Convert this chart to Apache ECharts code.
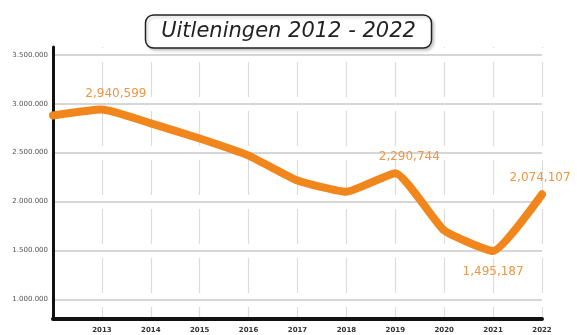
<!DOCTYPE html>
<html>
<head>
<meta charset="utf-8">
<script src="https://cdn.jsdelivr.net/npm/echarts@6/dist/echarts.min.js"></script>
<style>
  html, body { margin: 0; padding: 0; background: #fff; }
  #chart { width: 577px; height: 335px; }
</style>
</head>
<body>
<div id="chart"></div>
<script>
// Yearly loans (uitleningen), 2012 - 2022
const years = ['2012', '2013', '2014', '2015', '2016', '2017', '2018', '2019', '2020', '2021', '2022'];
const loans = [2880000, 2940599, 2800000, 2645000, 2470000, 2215000, 2100000, 2290744, 1705000, 1495187, 2074107];
const yTicks = [1000000, 1500000, 2000000, 2500000, 3000000, 3500000];
const labelledYears = ['2013', '2019', '2021', '2022'];

const orange = '#F0861C';
const fmtDots = v => String(v).replace(/\B(?=(\d{3})+(?!\d))/g, '.');
const fmtCommas = v => String(v).replace(/\B(?=(\d{3})+(?!\d))/g, ',');

const seriesData = loans.map((v, i) => {
  const yr = years[i];
  if (!labelledYears.includes(yr)) return v;
  const below = v === Math.min(...loans);
  const last = i === years.length - 1;
  return {
    value: v,
    label: {
      show: true,
      position: below ? 'bottom' : 'top',
      distance: below ? 14 : 9,
      offset: last ? [-2, 0] : (below ? [0, 0] : [14, 0])
    }
  };
});

const chart = echarts.init(document.getElementById('chart'), null, { renderer: 'canvas' });
chart.setOption({
  animation: false,
  backgroundColor: '#fff',
  title: {
    text: 'Uitleningen 2012 - 2022',
    left: 'center',
    top: 15,
    padding: [6, 16, 6, 16],
    borderColor: '#222',
    borderWidth: 1.5,
    borderRadius: 8,
    backgroundColor: '#fff',
    shadowColor: 'rgba(0,0,0,0.2)',
    shadowBlur: 3,
    shadowOffsetX: 2,
    shadowOffsetY: 2,
    textStyle: {
      fontFamily: 'DejaVu Sans',
      fontStyle: 'italic',
      fontWeight: 'normal',
      fontSize: 21,
      color: '#222'
    }
  },
  grid: { left: 53, right: 35, top: 47, bottom: 16, containLabel: false },
  xAxis: {
    type: 'category',
    data: years,
    boundaryGap: false,
    axisLine: { lineStyle: { color: '#111', width: 4 } },
    axisTick: { show: false },
    axisLabel: {
      margin: 8,
      fontSize: 7,
      fontWeight: 'bold',
      color: '#333',
      fontFamily: 'DejaVu Sans',
      formatter: (v, i) => (i === 0 ? '' : v)
    },
    splitLine: {
      show: true,
      interval: (i) => i > 0,
      lineStyle: { color: '#dcdcdc', width: 1.2, type: [35, 14], dashOffset: 34 }
    }
  },
  yAxis: {
    type: 'value',
    min: 800000,
    max: 3580000,
    axisLine: { show: true, lineStyle: { color: '#111', width: 3 } },
    axisTick: { show: false, customValues: yTicks },
    axisLabel: {
      customValues: yTicks,
      margin: 5,
      fontSize: 7,
      color: '#555',
      fontFamily: 'DejaVu Sans',
      formatter: v => fmtDots(v)
    },
    splitLine: { show: true, lineStyle: { color: '#c8c8c8', width: 1.5 } }
  },
  series: [{
    type: 'line',
    data: seriesData,
    smooth: 0.15,
    symbol: 'circle',
    symbolSize: 2,
    showSymbol: true,
    itemStyle: { color: orange },
    lineStyle: { color: orange, width: 8, cap: 'round', join: 'round' },
    label: {
      show: false,
      color: '#EE9644',
      fontSize: 12,
      fontFamily: 'DejaVu Sans',
      formatter: p => fmtCommas(p.value)
    },
    z: 5
  }]
});
</script>
</body>
</html>
